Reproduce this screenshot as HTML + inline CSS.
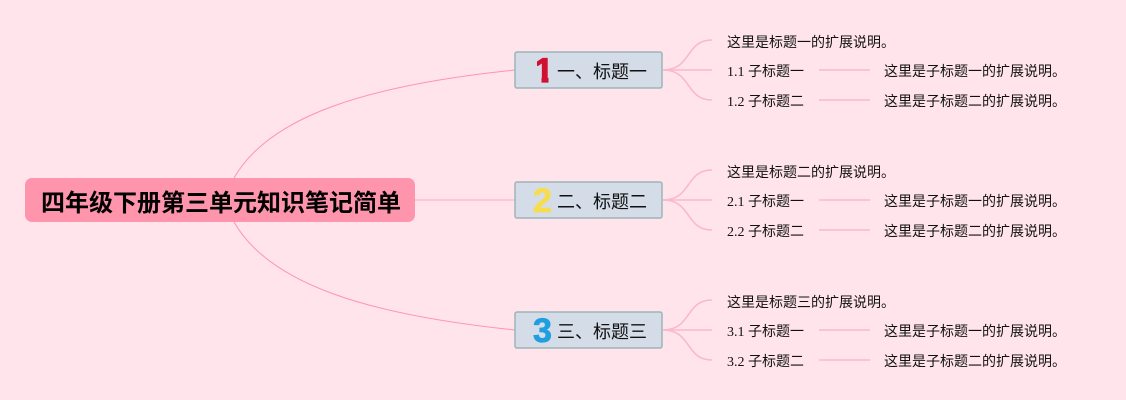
<!DOCTYPE html>
<html lang="zh"><head><meta charset="utf-8"><style>
html,body{margin:0;padding:0;background:#ffe4ec;width:1126px;height:400px;overflow:hidden}
svg{display:block}
.s{font-family:"Liberation Serif","Noto Sans CJK SC",serif;font-size:14px;fill:#111}
.t{font-family:"Liberation Sans","Noto Sans CJK SC",sans-serif;font-size:18px;fill:#111}
.r{font-family:"Liberation Sans","Noto Sans CJK SC",sans-serif;font-size:24px;font-weight:700;fill:#000}
.n{font-family:"Liberation Sans",sans-serif;font-size:34px;font-weight:700;text-anchor:middle}
.c{fill:none;stroke:#fab8cd;stroke-width:1.6}
.m{fill:none;stroke:#ff94ad;stroke-width:1}
.b{fill:#d3dce7;stroke:#9db3b8;stroke-width:1.5}
</style></head><body>
<svg width="1126" height="400" viewBox="0 0 1126 400" xmlns="http://www.w3.org/2000/svg">
<defs><clipPath id="one"><polygon points="537,55 548.5,55 548.5,83 541.5,83 541.5,66 537,66"/></clipPath></defs>
<rect width="1126" height="400" fill="#ffe4ec"/>
<path class="m" d="M234 178C270 115 370 85 515 70"/>
<path class="m" d="M234 222C270 285 370 315 515 330"/>
<path d="M414 200H515" fill="none" stroke="#ffb3c6" stroke-width="1.2"/>
<g>
<path class="c" d="M663 70C692 70 685 40 712 40"/><path class="c" d="M663 70H712"/><path class="c" d="M663 70C692 70 685 100 712 100"/>
<path class="c" d="M819 70H870"/><path class="c" d="M819 100H870"/>
</g>
<g transform="translate(0,130)"><path class="c" d="M663 70C692 70 685 40 712 40"/><path class="c" d="M663 70H712"/><path class="c" d="M663 70C692 70 685 100 712 100"/><path class="c" d="M819 70H870"/><path class="c" d="M819 100H870"/></g>
<g transform="translate(0,260)"><path class="c" d="M663 70C692 70 685 40 712 40"/><path class="c" d="M663 70H712"/><path class="c" d="M663 70C692 70 685 100 712 100"/><path class="c" d="M819 70H870"/><path class="c" d="M819 100H870"/></g>

<rect x="25" y="178" width="390" height="44" rx="7" fill="#ff94ad"/>
<text class="r" x="41" y="211">四年级下册第三单元知识笔记简单</text>

<rect class="b" x="515" y="52" width="147" height="36" rx="2"/>
<rect class="b" x="515" y="182" width="147" height="36" rx="2"/>
<rect class="b" x="515" y="312" width="147" height="36" rx="2"/>
<g clip-path="url(#one)"><text class="n" x="544" y="82" fill="#d0112f" stroke="#d0112f" stroke-width="1.2">1</text></g>
<text class="n" x="542.5" y="212" fill="#f7dc4f" stroke="#f7dc4f" stroke-width="0.8">2</text>
<text class="n" x="542.5" y="342" fill="#1f9fe0" stroke="#1f9fe0" stroke-width="0.8">3</text>
<text class="t" x="557" y="78">一、标题一</text>
<text class="t" x="557" y="208">二、标题二</text>
<text class="t" x="557" y="338">三、标题三</text>

<text class="s" x="727" y="47">这里是标题一的扩展说明。</text>
<text class="s" x="727" y="76">1.1 子标题一</text>
<text class="s" x="727" y="106">1.2 子标题二</text>
<text class="s" x="884" y="76">这里是子标题一的扩展说明。</text>
<text class="s" x="884" y="106">这里是子标题二的扩展说明。</text>

<text class="s" x="727" y="177">这里是标题二的扩展说明。</text>
<text class="s" x="727" y="206">2.1 子标题一</text>
<text class="s" x="727" y="236">2.2 子标题二</text>
<text class="s" x="884" y="206">这里是子标题一的扩展说明。</text>
<text class="s" x="884" y="236">这里是子标题二的扩展说明。</text>

<text class="s" x="727" y="307">这里是标题三的扩展说明。</text>
<text class="s" x="727" y="336">3.1 子标题一</text>
<text class="s" x="727" y="366">3.2 子标题二</text>
<text class="s" x="884" y="336">这里是子标题一的扩展说明。</text>
<text class="s" x="884" y="366">这里是子标题二的扩展说明。</text>
</svg>
</body></html>
